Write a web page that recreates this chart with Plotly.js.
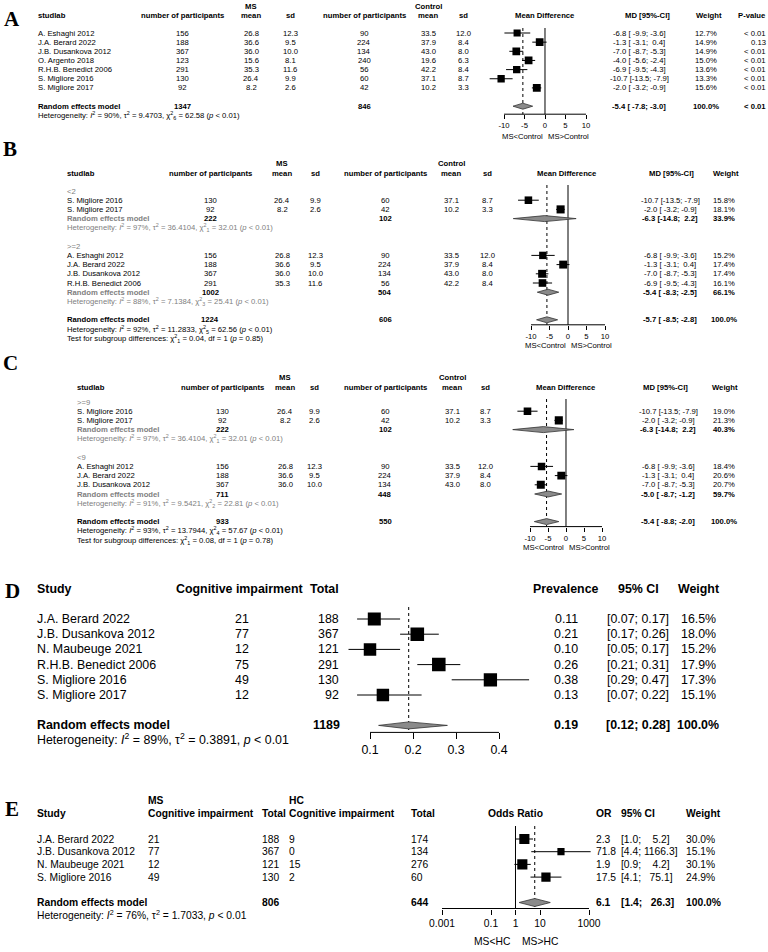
<!DOCTYPE html>
<html><head><meta charset="utf-8">
<script src="https://cdn.plot.ly/plotly-3.0.1.min.js"></script>
<style>html,body{margin:0;padding:0;background:#fff}</style>
</head><body><div id="chart" style="width:768px;height:952px"></div>
<script>
// ================= DATA =================
// ---- Panel A : MS vs Control, mean difference ----
const aStudies = ["A. Eshaghi 2012","J.A. Berard 2022","J.B. Dusankova 2012","O. Argento 2018","R.H.B. Benedict 2006","S. Migliore 2016","S. Migliore 2017"];
const aMsN    = [156,188,367,123,291,130,92];
const aMsMean = [26.8,36.6,36.0,15.6,35.3,26.4,8.2];
const aMsSd   = [12.3,9.5,10.0,8.1,11.6,9.9,2.6];
const aHcN    = [90,224,134,240,56,60,42];
const aHcMean = [33.5,37.9,43.0,19.6,42.2,37.1,10.2];
const aHcSd   = [12.0,8.4,8.0,6.3,8.4,8.7,3.3];
const aMd     = [-6.8,-1.3,-7.0,-4.0,-6.9,-10.7,-2.0];
const aLo     = [-9.9,-3.1,-8.7,-5.6,-9.5,-13.5,-3.2];
const aHi     = [-3.6,0.4,-5.3,-2.4,-4.3,-7.9,-0.9];
const aWeight = [12.7,14.9,14.9,15.0,13.6,13.3,15.6];
const aPval   = ["< 0.01","0.13","< 0.01","< 0.01","< 0.01","< 0.01","< 0.01"];
const aPoolN  = [1347,846];
const aPoolMd = [-5.4,-7.8,-3.0];
const aPoolP  = "< 0.01";
const aHet    = [90,9.4703,6,62.58,"< 0.01"];

// ---- Panel B : subgroups <2 / >=2 ----
const bGroups  = ["<2",">=2"];
const bGroupOf = [0,0,1,1,1,1];
const bStudies = ["S. Migliore 2016","S. Migliore 2017","A. Eshaghi 2012","J.A. Berard 2022","J.B. Dusankova 2012","R.H.B. Benedict 2006"];
const bMsN    = [130,92,156,188,367,291];
const bMsMean = [26.4,8.2,26.8,36.6,36.0,35.3];
const bMsSd   = [9.9,2.6,12.3,9.5,10.0,11.6];
const bHcN    = [60,42,90,224,134,56];
const bHcMean = [37.1,10.2,33.5,37.9,43.0,42.2];
const bHcSd   = [8.7,3.3,12.0,8.4,8.0,8.4];
const bMd     = [-10.7,-2.0,-6.8,-1.3,-7.0,-6.9];
const bLo     = [-13.5,-3.2,-9.9,-3.1,-8.7,-9.5];
const bHi     = [-7.9,-0.9,-3.6,0.4,-5.3,-4.3];
const bWeight = [15.8,18.1,15.2,17.4,17.4,16.1];
const bSubMsN = [222,1002];
const bSubHcN = [102,504];
const bSubMd  = [-6.3,-5.4];
const bSubLo  = [-14.8,-8.3];
const bSubHi  = [2.2,-2.5];
const bSubWeight = [33.9,66.1];
const bSubHet = [[97,36.4104,1,32.01,"< 0.01"],[88,7.1384,3,25.41,"< 0.01"]];
const bPoolN  = [1224,606];
const bPoolMd = [-5.7,-8.5,-2.8];
const bHet    = [92,11.2833,5,62.56,"< 0.01"];
const bTest   = [0.04,1,"= 0.85"];

// ---- Panel C : subgroups >=9 / <9 ----
const cGroups  = [">=9","<9"];
const cGroupOf = [0,0,1,1,1];
const cStudies = ["S. Migliore 2016","S. Migliore 2017","A. Eshaghi 2012","J.A. Berard 2022","J.B. Dusankova 2012"];
const cMsN    = [130,92,156,188,367];
const cMsMean = [26.4,8.2,26.8,36.6,36.0];
const cMsSd   = [9.9,2.6,12.3,9.5,10.0];
const cHcN    = [60,42,90,224,134];
const cHcMean = [37.1,10.2,33.5,37.9,43.0];
const cHcSd   = [8.7,3.3,12.0,8.4,8.0];
const cMd     = [-10.7,-2.0,-6.8,-1.3,-7.0];
const cLo     = [-13.5,-3.2,-9.9,-3.1,-8.7];
const cHi     = [-7.9,-0.9,-3.6,0.4,-5.3];
const cWeight = [19.0,21.3,18.4,20.6,20.7];
const cSubMsN = [222,711];
const cSubHcN = [102,448];
const cSubMd  = [-6.3,-5.0];
const cSubLo  = [-14.8,-8.7];
const cSubHi  = [2.2,-1.2];
const cSubWeight = [40.3,59.7];
const cSubHet = [[97,36.4104,1,32.01,"< 0.01"],[91,9.5421,2,22.81,"< 0.01"]];
const cPoolN  = [933,550];
const cPoolMd = [-5.4,-8.8,-2.0];
const cHet    = [93,13.7944,4,57.67,"< 0.01"];
const cTest   = [0.08,1,"= 0.78"];

// ---- Panel D : prevalence of cognitive impairment ----
const dStudies = ["J.A. Berard 2022","J.B. Dusankova 2012","N. Maubeuge 2021","R.H.B. Benedict 2006","S. Migliore 2016","S. Migliore 2017"];
const dEvents = [21,77,12,75,49,12];
const dTotal  = [188,367,121,291,130,92];
const dPrev   = [0.11,0.21,0.10,0.26,0.38,0.13];
const dLo     = [0.07,0.17,0.05,0.21,0.29,0.07];
const dHi     = [0.17,0.26,0.17,0.31,0.47,0.22];
const dWeight = [16.5,18.0,15.2,17.9,17.3,15.1];
const dPoolTotal = 1189;
const dPool   = [0.19,0.12,0.28];
const dHet    = [89,0.3891,"< 0.01"];
const dTicks  = [0.1,0.2,0.3,0.4];

// ---- Panel E : odds ratio MS vs HC ----
const eStudies = ["J.A. Berard 2022","J.B. Dusankova 2012","N. Maubeuge 2021","S. Migliore 2016"];
const eMsEvents = [21,77,12,49];
const eMsTotal  = [188,367,121,130];
const eHcEvents = [9,0,15,2];
const eHcTotal  = [174,134,276,60];
const eOr     = [2.3,71.8,1.9,17.5];
const eLo     = [1.0,4.4,0.9,4.1];
const eHi     = [5.2,1166.3,4.2,75.1];
const eWeight = [30.0,15.1,30.1,24.9];
const ePoolTotal = [806,644];
const ePool   = [6.1,1.4,26.3];
const eHet    = [76,1.7033,"< 0.01"];
const eTicks  = [0.001,0.1,1,10,1000];

const mdTicks = [-10,-5,0,5,10];

// ================= DRAWING =================
const W = 768, H = 952;
const SANS = '"Liberation Sans", Arial, Helvetica, sans-serif';
const SERIF = '"Liberation Serif", "Times New Roman", serif';
const GRAY = '#808080';
const NB = '\u00A0';
const ann = [], traces = [], axes = {};
let axN = 1;

const esc = s => String(s).replace(/</g,'&lt;').replace(/>/g,'&gt;');
const pad = (s, w) => NB.repeat(Math.max(0, w - s.length)) + s;
const f1 = v => v.toFixed(1);
const f2 = v => v.toFixed(2);
const B = s => '<b>' + s + '</b>';

function T(x, y, text, o) {
  o = o || {};
  ann.push({xref:'x', yref:'y', x:x, y:y, text:String(text), showarrow:false,
    xanchor:o.a || 'center', yanchor:'middle', borderpad:0, borderwidth:0,
    font:{family:o.f || SANS, size:o.s || 7.7, color:o.c || '#000'}});
}
function makeAxis(o) {
  axN++;
  const k = (o.p1 - o.p0) / (o.v1 - o.v0);
  const d0 = (o.p0 + (o.r0 - o.v0) * k) / W, d1 = (o.p0 + (o.r1 - o.v0) * k) / W;
  axes['xaxis' + axN] = {domain:[d0, d1], range:[o.r0, o.r1], type:o.type || 'linear',
    anchor:'free', position:1 - o.axisY / H, showline:false, showgrid:false, zeroline:false,
    ticks:'outside', ticklen:o.ticklen, tickwidth:1, tickcolor:'#000',
    tickvals:o.tickvals, ticktext:o.tickvals.map(String),
    tickfont:{family:SANS, size:o.fs, color:'#000'}, fixedrange:true};
  const tr = v => (o.type === 'log' ? Math.log10(v) : v);
  return {name:'x' + axN, px: v => o.p0 + (tr(v) - o.v0) * k};
}
function line(ax, xs, ys, dash) {
  traces.push({type:'scatter', mode:'lines', xaxis:ax, yaxis:'y', x:xs, y:ys,
    line:{color:'#000', width:1, dash:dash || 'solid'}, hoverinfo:'skip'});
}
function boxes(ax, est, lo, hi, ys, w, k) {
  traces.push({type:'scatter', mode:'markers', xaxis:ax, yaxis:'y', x:est, y:ys,
    marker:{symbol:'square', size:w.map(v => k * Math.sqrt(v)), color:'#000', opacity:1, line:{width:0}},
    error_x:{type:'data', symmetric:false, array:hi.map((h, i) => h - est[i]),
      arrayminus:lo.map((l, i) => est[i] - l), thickness:1, width:0, color:'#000'},
    hoverinfo:'skip'});
}
function diamond(ax, est, lo, hi, y, h) {
  traces.push({type:'scatter', mode:'lines', xaxis:ax, yaxis:'y',
    x:[lo, est, hi, est, lo], y:[y, y - h, y, y + h, y], fill:'toself',
    fillcolor:'#8a8a8a', line:{color:'#333', width:0.8}, hoverinfo:'skip'});
}
function hetMd(h) {
  return 'Heterogeneity: <i>I</i><sup>2</sup> = ' + h[0] + '%, \u03c4<sup>2</sup> = ' + h[1].toFixed(4) +
    ', \u03c7<sup>2</sup><sub>' + h[2] + '</sub> = ' + h[3].toFixed(2) + ' (<i>p</i> ' + esc(h[4]) + ')';
}

// ---------- Mean-difference panels (A, B, C) ----------
function mdPanel(c) {
  const x = c.x, s = c.s, n = c.studies.length;
  T(c.letter[1], c.letter[2], B(c.letter[0]), {f:SERIF, s:21});
  T(x.study, c.yHead, B('studlab'), {a:'left'});
  T(x.msN, c.yHead, B('number of participants'));
  T(x.msMean, c.yMS, B('MS'));
  T(x.msMean, c.yHead, B('mean'));
  T(x.msSd, c.yHead, B('sd'));
  T(x.hcN, c.yHead, B('number of participants'));
  T(x.hcMean, c.yMS, B('Control'));
  T(x.hcMean, c.yHead, B('mean'));
  T(x.hcSd, c.yHead, B('sd'));
  T(x.fHead, c.yHead, B('Mean Difference'));
  T(x.mdHead, c.yHead, B('MD [95%-CI]'));
  T(x.wHead, c.yHead, B('Weight'));
  if (c.pval) T(x.p, c.yHead, B('P-value'), {a:'right'});

  let y = c.y0;
  const studyY = new Array(n), gLabY = [], subY = [], subHetY = [];
  if (c.groups) {
    c.groups.forEach((g, gi) => {
      gLabY[gi] = y; y += s;
      c.groupOf.forEach((gg, i) => { if (gg === gi) { studyY[i] = y; y += s; } });
      subY[gi] = y; y += s; subHetY[gi] = y; y += 2 * s;
    });
  } else {
    for (let i = 0; i < n; i++) { studyY[i] = y; y += s; }
    y += s;
  }
  const poolY = y, hetY = y + s, testY = y + 2 * s;

  const allLo = c.lo.concat(c.subLo || [], [c.pool[1]]).map(f1);
  const allHi = c.hi.concat(c.subHi || [], [c.pool[2]]).map(f1);
  const wl = Math.max(...allLo.map(v => v.length)), wh = Math.max(...allHi.map(v => v.length));
  const ciTxt = (e, l, h) => f1(e) + ' [' + pad(f1(l), wl) + '; ' + pad(f1(h), wh) + ']';

  for (let i = 0; i < n; i++) {
    const yy = studyY[i];
    T(x.study, yy, c.studies[i], {a:'left'});
    T(x.msN, yy, c.msN[i]);
    T(x.msMean, yy, f1(c.msMean[i]));
    T(x.msSd, yy, f1(c.msSd[i]));
    T(x.hcN, yy, c.hcN[i]);
    T(x.hcMean, yy, f1(c.hcMean[i]));
    T(x.hcSd, yy, f1(c.hcSd[i]));
    T(x.md, yy, ciTxt(c.md[i], c.lo[i], c.hi[i]));
    T(x.w, yy, f1(c.weight[i]) + '%');
    if (c.pval) T(x.p, yy, esc(c.pval[i]), {a:'right'});
  }
  if (c.groups) {
    c.groups.forEach((g, gi) => {
      T(x.study, gLabY[gi], esc(g), {a:'left', c:GRAY});
      T(x.study, subY[gi], B('Random effects model'), {a:'left', c:GRAY});
      T(x.msN, subY[gi], B(c.subMsN[gi]));
      T(x.hcN, subY[gi], B(c.subHcN[gi]));
      T(x.md, subY[gi], B(ciTxt(c.subMd[gi], c.subLo[gi], c.subHi[gi])));
      T(x.w, subY[gi], B(f1(c.subWeight[gi]) + '%'));
      T(x.study, subHetY[gi], hetMd(c.subHet[gi]), {a:'left', c:GRAY});
    });
  }
  T(x.study, poolY, B('Random effects model'), {a:'left'});
  T(x.msN, poolY, B(c.poolN[0]));
  T(x.hcN, poolY, B(c.poolN[1]));
  T(x.md, poolY, B(ciTxt(c.pool[0], c.pool[1], c.pool[2])));
  T(x.w, poolY, B('100.0%'));
  if (c.pval) T(x.p, poolY, B(esc(c.poolP)), {a:'right'});
  T(x.study, hetY, hetMd(c.het), {a:'left'});
  if (c.test) T(x.study, testY, 'Test for subgroup differences: \u03c7<sup>2</sup><sub>' + c.test[1] +
      '</sub> = ' + f2(c.test[0]) + ', df = ' + c.test[1] + ' (<i>p</i> ' + c.test[2] + ')', {a:'left'});

  const axisY = poolY + c.axOff;
  const ax = makeAxis({p0:c.f.p0, v0:-10, p1:c.f.p1, v1:10, r0:-17, r1:17, axisY:axisY,
    tickvals:mdTicks, ticklen:4, fs:7.7});
  line(ax.name, [0, 0], [c.lineTop, axisY]);
  line(ax.name, [c.pool[0], c.pool[0]], [c.lineTop, axisY], 'dot');
  line(ax.name, [mdTicks[0], mdTicks[mdTicks.length - 1]], [axisY, axisY]);
  boxes(ax.name, c.md, c.lo, c.hi, studyY, c.weight, c.boxK);
  if (c.groups) c.groups.forEach((g, gi) => diamond(ax.name, c.subMd[gi], c.subLo[gi], c.subHi[gi], subY[gi], 3));
  diamond(ax.name, c.pool[0], c.pool[1], c.pool[2], poolY, 3);
  T(ax.px(0) - 2, poolY + c.lblOff, 'MS&lt;Control', {a:'right'});
  T(ax.px(0) + 3, poolY + c.lblOff, 'MS&gt;Control', {a:'left'});
}

mdPanel({letter:['A', 12, 19], yMS:6, yHead:15, y0:33, s:9.15, lineTop:28, axOff:8, lblOff:30, boxK:2.0,
  x:{study:38, msN:182, msMean:251, msSd:290, hcN:364, hcMean:428, hcSd:463, fHead:545,
     md:639, mdHead:647, w:706, wHead:709, p:766},
  f:{p0:504, p1:586},
  studies:aStudies, msN:aMsN, msMean:aMsMean, msSd:aMsSd, hcN:aHcN, hcMean:aHcMean, hcSd:aHcSd,
  md:aMd, lo:aLo, hi:aHi, weight:aWeight, pval:aPval, poolN:aPoolN, pool:aPoolMd, poolP:aPoolP, het:aHet});

mdPanel({letter:['B', 10, 149], yMS:163, yHead:173, y0:191, s:9.2, lineTop:185, axOff:5, lblOff:26, boxK:1.9,
  x:{study:67, msN:210, msMean:282, msSd:315, hcN:385, hcMean:451, hcSd:487, fHead:567,
     md:670, mdHead:671, w:724, wHead:726},
  f:{p0:531, p1:605},
  groups:bGroups, groupOf:bGroupOf,
  studies:bStudies, msN:bMsN, msMean:bMsMean, msSd:bMsSd, hcN:bHcN, hcMean:bHcMean, hcSd:bHcSd,
  md:bMd, lo:bLo, hi:bHi, weight:bWeight,
  subMsN:bSubMsN, subHcN:bSubHcN, subMd:bSubMd, subLo:bSubLo, subHi:bSubHi, subWeight:bSubWeight, subHet:bSubHet,
  poolN:bPoolN, pool:bPoolMd, het:bHet, test:bTest});

mdPanel({letter:['C', 10, 363], yMS:377, yHead:387, y0:402, s:9.2, lineTop:399, axOff:5, lblOff:26, boxK:1.75,
  x:{study:77, msN:222, msMean:285, msSd:314, hcN:385, hcMean:452, hcSd:485, fHead:566,
     md:668, mdHead:665, w:724, wHead:725},
  f:{p0:530, p1:602},
  groups:cGroups, groupOf:cGroupOf,
  studies:cStudies, msN:cMsN, msMean:cMsMean, msSd:cMsSd, hcN:cHcN, hcMean:cHcMean, hcSd:cHcSd,
  md:cMd, lo:cLo, hi:cHi, weight:cWeight,
  subMsN:cSubMsN, subHcN:cSubHcN, subMd:cSubMd, subLo:cSubLo, subHi:cSubHi, subWeight:cSubWeight, subHet:cSubHet,
  poolN:cPoolN, pool:cPoolMd, het:cHet, test:cTest});

// ---------- Panel D ----------
(function () {
  const fs = 12.4, s = 15.2, y0 = 619, yHead = 589;
  T(12, 591, B('D'), {f:SERIF, s:21});
  T(37, yHead, B('Study'), {a:'left', s:fs});
  T(239, yHead, B('Cognitive impairment'), {s:fs});
  T(339, yHead, B('Total'), {a:'right', s:fs});
  T(566, yHead, B('Prevalence'), {s:fs});
  T(638, yHead, B('95% CI'), {s:fs});
  T(698, yHead, B('Weight'), {s:fs});
  const ys = dStudies.map((_, i) => y0 + i * s);
  dStudies.forEach((st, i) => {
    T(37, ys[i], st, {a:'left', s:fs});
    T(242, ys[i], dEvents[i], {s:fs});
    T(339, ys[i], dTotal[i], {a:'right', s:fs});
    T(566, ys[i], f2(dPrev[i]), {s:fs});
    T(638, ys[i], '[' + f2(dLo[i]) + '; ' + f2(dHi[i]) + ']', {s:fs});
    T(698, ys[i], f1(dWeight[i]) + '%', {s:fs});
  });
  const poolY = ys[ys.length - 1] + 2 * s, axisY = poolY + 7;
  T(37, poolY, B('Random effects model'), {a:'left', s:fs});
  T(340, poolY, B(dPoolTotal), {a:'right', s:fs});
  T(566, poolY, B(f2(dPool[0])), {s:fs});
  T(638, poolY, B('[' + f2(dPool[1]) + '; ' + f2(dPool[2]) + ']'), {s:fs});
  T(698, poolY, B('100.0%'), {s:fs});
  T(37, poolY + 14, 'Heterogeneity: <i>I</i><sup>2</sup> = ' + dHet[0] + '%, \u03c4<sup>2</sup> = ' +
    dHet[1].toFixed(4) + ', <i>p</i> ' + esc(dHet[2]), {a:'left', s:fs});
  const ax = makeAxis({p0:370, v0:0.1, p1:499, v1:0.4, r0:0.02, r1:0.5, axisY:axisY,
    tickvals:dTicks, ticklen:6, fs:fs});
  line(ax.name, [dPool[0], dPool[0]], [607, axisY], 'dot');
  line(ax.name, [dTicks[0], dTicks[dTicks.length - 1]], [axisY, axisY]);
  boxes(ax.name, dPrev, dLo, dHi, ys, dWeight, 3.2);
  diamond(ax.name, dPool[0], dPool[1], dPool[2], poolY, 3.5);
})();

// ---------- Panel E ----------
(function () {
  const fs = 10.3, s = 12.7, y0 = 839, yHead = 813, yTop = 800;
  T(12, 809, B('E'), {f:SERIF, s:21});
  T(148, yTop, B('MS'), {a:'left', s:fs});
  T(289, yTop, B('HC'), {a:'left', s:fs});
  T(37, yHead, B('Study'), {a:'left', s:fs});
  T(148, yHead, B('Cognitive impairment'), {a:'left', s:fs});
  T(262, yHead, B('Total'), {a:'left', s:fs});
  T(289, yHead, B('Cognitive impairment'), {a:'left', s:fs});
  T(411, yHead, B('Total'), {a:'left', s:fs});
  T(515, yHead, B('Odds Ratio'), {s:fs});
  T(596, yHead, B('OR'), {a:'left', s:fs});
  T(621, yHead, B('95% CI'), {a:'left', s:fs});
  T(686, yHead, B('Weight'), {a:'left', s:fs});
  const ys = eStudies.map((_, i) => y0 + i * s);
  const wl = Math.max(...eLo.concat([ePool[1]]).map(v => f1(v).length));
  const wh = Math.max(...eHi.concat([ePool[2]]).map(v => f1(v).length));
  const ci = (l, h) => '[' + pad(f1(l), wl) + '; ' + pad(f1(h), wh) + ']';
  eStudies.forEach((st, i) => {
    T(37, ys[i], st, {a:'left', s:fs});
    T(148, ys[i], eMsEvents[i], {a:'left', s:fs});
    T(262, ys[i], eMsTotal[i], {a:'left', s:fs});
    T(289, ys[i], eHcEvents[i], {a:'left', s:fs});
    T(411, ys[i], eHcTotal[i], {a:'left', s:fs});
    T(596, ys[i], f1(eOr[i]), {a:'left', s:fs});
    T(621, ys[i], ci(eLo[i], eHi[i]), {a:'left', s:fs});
    T(686, ys[i], f1(eWeight[i]) + '%', {a:'left', s:fs});
  });
  const poolY = ys[ys.length - 1] + 2 * s, axisY = poolY + 6;
  T(37, poolY, B('Random effects model'), {a:'left', s:fs});
  T(262, poolY, B(ePoolTotal[0]), {a:'left', s:fs});
  T(411, poolY, B(ePoolTotal[1]), {a:'left', s:fs});
  T(596, poolY, B(f1(ePool[0])), {a:'left', s:fs});
  T(621, poolY, B(ci(ePool[1], ePool[2])), {a:'left', s:fs});
  T(686, poolY, B('100.0%'), {a:'left', s:fs});
  T(37, poolY + 12, 'Heterogeneity: <i>I</i><sup>2</sup> = ' + eHet[0] + '%, \u03c4<sup>2</sup> = ' +
    eHet[1].toFixed(4) + ', <i>p</i> ' + esc(eHet[2]), {a:'left', s:fs});
  const ax = makeAxis({p0:442, v0:-3, p1:589, v1:3, r0:-3.3, r1:3.3, type:'log', axisY:axisY,
    tickvals:eTicks, ticklen:5, fs:fs});
  line(ax.name, [1, 1], [826, axisY]);
  line(ax.name, [ePool[0], ePool[0]], [826, axisY], 'dot');
  line(ax.name, [eTicks[0], eTicks[eTicks.length - 1]], [axisY, axisY]);
  boxes(ax.name, eOr, eLo, eHi, ys, eWeight, 1.85);
  diamond(ax.name, ePool[0], ePool[1], ePool[2], poolY, 4);
  T(ax.px(1) - 5, poolY + 39, 'MS&lt;HC', {a:'right', s:fs});
  T(ax.px(1) + 6, poolY + 39, 'MS&gt;HC', {a:'left', s:fs});
})();

traces.unshift({type:'scatter', mode:'markers', x:[], y:[], xaxis:'x', yaxis:'y', hoverinfo:'skip'});

const layout = Object.assign({
  width:W, height:H, margin:{l:0, r:0, t:0, b:0}, showlegend:false,
  paper_bgcolor:'#fff', plot_bgcolor:'rgba(0,0,0,0)',
  xaxis:{domain:[0, 1], range:[0, W], visible:false, fixedrange:true},
  yaxis:{domain:[0, 1], range:[H, 0], visible:false, fixedrange:true},
  annotations:ann
}, axes);

Plotly.newPlot('chart', traces, layout, {staticPlot:true});
</script>
</body></html>
